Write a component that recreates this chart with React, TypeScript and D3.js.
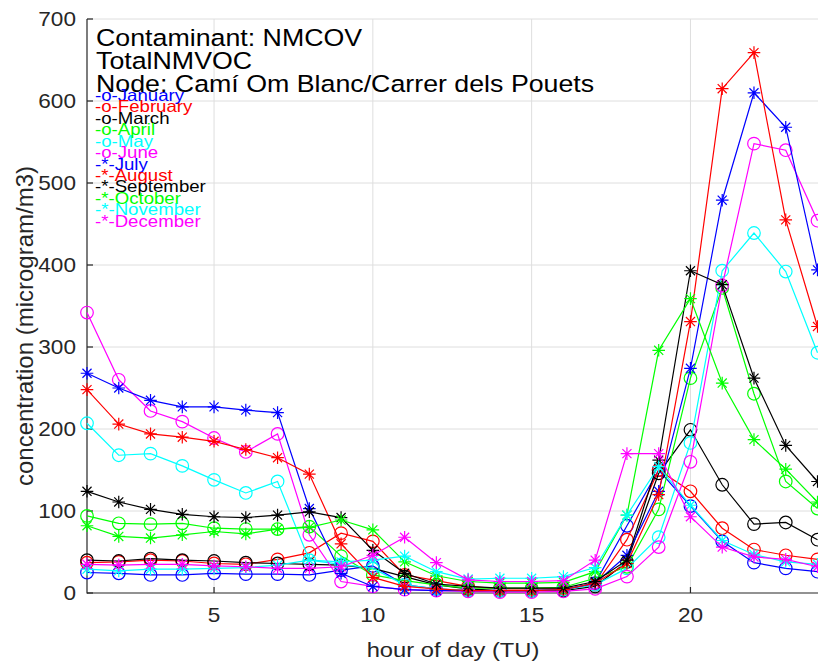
import React, { useEffect, useRef } from "react";
import * as d3 from "d3";

// hour of day (TU)
const hours = [1, 2, 3, 4, 5, 6, 7, 8, 9, 10, 11, 12, 13, 14, 15, 16, 17, 18, 19, 20, 21, 22, 23, 24];

const january = [25, 24, 22, 22, 24, 23, 23, 22, 28, 33, 10, 5, 3, 3, 3, 4, 12, 82, 150, 106, 63, 37, 30, 26];
const february = [37, 38, 40, 39, 36, 35, 41, 49, 73, 63, 22, 15, 8, 5, 5, 5, 10, 65, 150, 124, 79, 53, 46, 41];
const march = [40, 39, 42, 40, 39, 37, 36, 35, 34, 30, 20, 10, 5, 3, 3, 3, 8, 38, 146, 199, 132, 84, 86, 65];
const april = [94, 85, 84, 85, 79, 78, 78, 81, 45, 22, 15, 10, 6, 6, 6, 7, 18, 32, 102, 262, 372, 243, 136, 103];
const may = [207, 168, 170, 155, 138, 122, 136, 40, 35, 30, 10, 5, 3, 3, 3, 4, 10, 30, 68, 183, 393, 439, 392, 293];
const june = [342, 260, 222, 209, 189, 172, 194, 71, 14, 8, 4, 3, 2, 1, 1, 2, 5, 20, 56, 160, 375, 548, 540, 454];
const july = [268, 250, 235, 227, 227, 223, 220, 103, 24, 8, 4, 3, 3, 3, 3, 4, 12, 46, 124, 274, 479, 610, 568, 394];
const august = [248, 206, 194, 190, 185, 175, 165, 145, 60, 19, 8, 5, 3, 3, 3, 4, 12, 36, 120, 331, 615, 659, 455, 325];
const september = [124, 111, 102, 96, 93, 92, 95, 99, 92, 52, 24, 11, 8, 6, 6, 6, 14, 40, 162, 393, 376, 262, 180, 136];
const october = [82, 69, 67, 71, 75, 72, 78, 80, 89, 77, 38, 21, 14, 12, 12, 13, 26, 95, 296, 359, 256, 187, 151, 111];
const november = [29, 27, 29, 29, 30, 31, 34, 40, 38, 40, 45, 26, 17, 18, 18, 20, 31, 95, 154, 107, 64, 47, 38, 35];
const december = [35, 34, 35, 35, 33, 32, 30, 30, 32, 46, 68, 37, 16, 14, 14, 15, 40, 170, 170, 93, 56, 44, 41, 32];

const months = ["January", "February", "March", "April", "May", "June", "July", "August", "September", "October", "November", "December"];
const monthValues = [january, february, march, april, may, june, july, august, september, october, november, december];
const monthColors = ["#0000ff", "#ff0000", "#000000", "#00ff00", "#00ffff", "#ff00ff", "#0000ff", "#ff0000", "#000000", "#00ff00", "#00ffff", "#ff00ff"];
const monthMarkers = ["o", "o", "o", "o", "o", "o", "*", "*", "*", "*", "*", "*"];

const titleLines = ["Contaminant: NMCOV", "TotalNMVOC", "Node: Camí Om Blanc/Carrer dels Pouets"];
const yTicks = [0, 100, 200, 300, 400, 500, 600, 700];
const xTicks = [5, 10, 15, 20];

const FONT = "'Liberation Sans', Arial, Helvetica, sans-serif";
const AXIS = "#262626";
const GRID = "#dedede";
const SX = 1.13; // glyphs in the original are a bit wider than Arial

const App = () => {
  const ref = useRef<SVGSVGElement>(null);

  useEffect(() => {
    const svg = d3.select(ref.current);
    svg.selectAll("*").remove();

    const x = d3.scaleLinear().domain([1, 24]).range([87, 817.5]);
    const y = d3.scaleLinear().domain([0, 700]).range([593, 19]);

    svg.append("rect").attr("width", 818).attr("height", 663).attr("fill", "#fff");

    // grid
    const grid = svg.append("g").attr("stroke", GRID).attr("stroke-width", 1);
    yTicks.filter((t) => t > 0).forEach((t) => {
      grid.append("line").attr("x1", x(1)).attr("x2", 818).attr("y1", y(t)).attr("y2", y(t));
    });
    xTicks.forEach((t) => {
      grid.append("line").attr("x1", x(t)).attr("x2", x(t)).attr("y1", y(0)).attr("y2", y(700));
    });

    // axes
    const axes = svg.append("g").attr("stroke", AXIS).attr("stroke-width", 1.2);
    axes.append("line").attr("x1", x(1)).attr("x2", x(1)).attr("y1", y(0) + 0.6).attr("y2", y(700));
    axes.append("line").attr("x1", x(1)).attr("x2", 818).attr("y1", y(0)).attr("y2", y(0));
    yTicks.forEach((t) => {
      axes.append("line").attr("x1", x(1)).attr("x2", x(1) + 6).attr("y1", y(t)).attr("y2", y(t));
    });
    xTicks.forEach((t) => {
      axes.append("line").attr("x1", x(t)).attr("x2", x(t)).attr("y1", y(0)).attr("y2", y(0) - 6);
    });

    const stretchedText = (px: number, py: number, str: string, size: number, color: string, anchor = "start") => {
      svg
        .append("g")
        .attr("transform", `translate(${px},${py}) scale(${SX},1)`)
        .append("text")
        .attr("font-family", FONT)
        .attr("font-size", size)
        .attr("fill", color)
        .attr("text-anchor", anchor)
        .text(str);
    };

    yTicks.forEach((t) => stretchedText(76, y(t) + 7, String(t), 20, AXIS, "end"));
    xTicks.forEach((t) => stretchedText(x(t), 622, String(t), 20, AXIS, "middle"));

    stretchedText(453, 657, "hour of day (TU)", 21, AXIS, "middle");
    svg
      .append("text")
      .attr("transform", `translate(33,326) rotate(-90)`)
      .attr("font-family", FONT)
      .attr("font-size", 24)
      .attr("fill", AXIS)
      .attr("text-anchor", "middle")
      .text("concentration (microgram/m3)");

    // series
    const line = d3
      .line<number>()
      .x((_, i) => x(hours[i]))
      .y((d) => y(d));

    monthValues.forEach((vals, m) => {
      const color = monthColors[m];
      const g = svg.append("g").attr("stroke", color).attr("fill", "none").attr("stroke-width", 1.2);
      g.append("path").attr("d", line(vals));
      vals.forEach((v, i) => {
        const cx = x(hours[i]);
        const cy = y(v);
        if (monthMarkers[m] === "o") {
          g.append("circle").attr("cx", cx).attr("cy", cy).attr("r", 6.3);
        } else {
          const r = 6.3;
          const d = r * 0.72;
          g.append("path").attr(
            "d",
            `M${cx - r},${cy}H${cx + r}M${cx},${cy - r}V${cy + r}` +
              `M${cx - d},${cy - d}L${cx + d},${cy + d}M${cx - d},${cy + d}L${cx + d},${cy - d}`
          );
        }
      });
    });

    // title block
    titleLines.forEach((t, i) => stretchedText(96, 46 + i * 23, t, 23.7, "#000"));

    // legend (text only, as in the original)
    months.forEach((name, m) => {
      const label = monthMarkers[m] === "o" ? `-o-${name}` : `-*-${name}`;
      stretchedText(95, 101 + m * 11.43, label, 16.5, monthColors[m]);
    });
  }, []);

  return (
    <svg
      ref={ref}
      width={818}
      height={663}
      style={{ position: "absolute", left: 0, top: 0, display: "block" }}
    />
  );
};

export default App;
